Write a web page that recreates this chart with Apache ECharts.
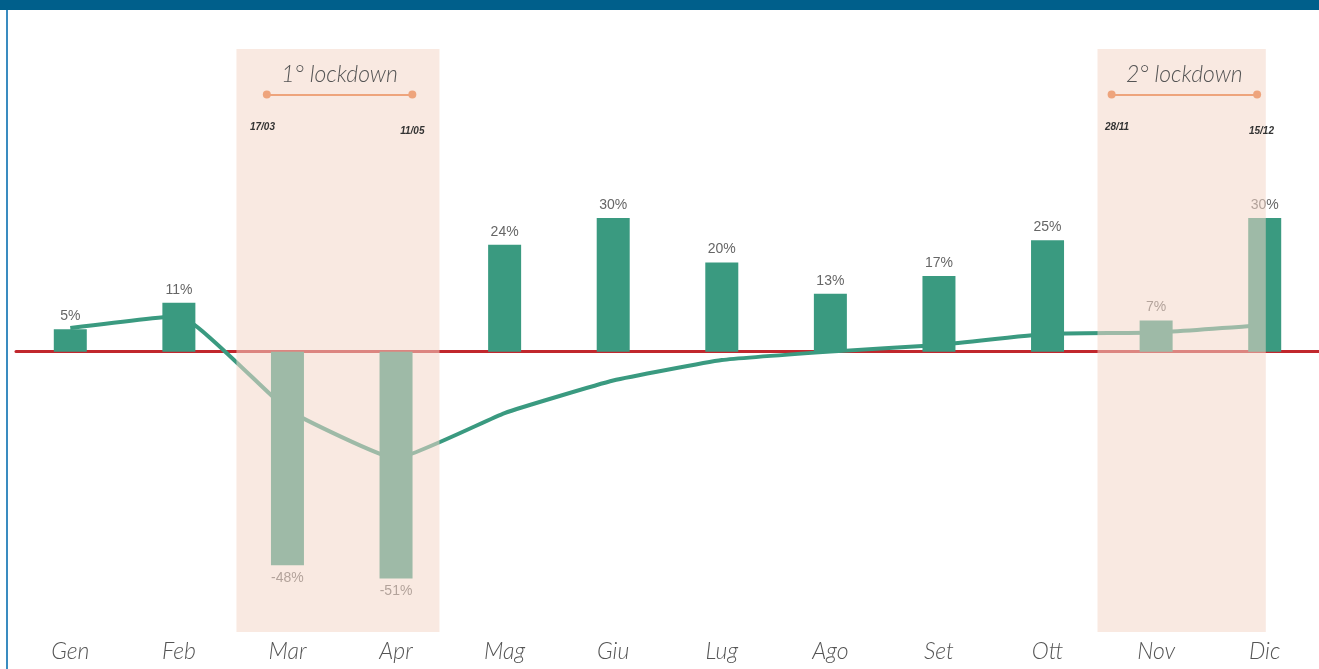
<!DOCTYPE html>
<html>
<head>
<meta charset="utf-8">
<script src="https://cdn.jsdelivr.net/npm/echarts@6/dist/echarts.min.js"></script>
<style>
  html, body { margin: 0; padding: 0; background: #fff; }
  #chart { width: 1319px; height: 669px; }
</style>
</head>
<body>
<div id="chart"></div>
<script>
// mesi
const months = ['Gen', 'Feb', 'Mar', 'Apr', 'Mag', 'Giu', 'Lug', 'Ago', 'Set', 'Ott', 'Nov', 'Dic'];
// variazione mensile (%)
const monthly = [5, 11, -48, -51, 24, 30, 20, 13, 17, 25, 7, 30];
// andamento cumulato (%)
const cumulative = [5.3, 8.0, -13, -24, -13.8, -6.5, -1.9, 0, 1.5, 4.0, 4.3, 6.0];
// periodi di lockdown, posizioni sull'asse dei mesi (indice)
const lockdowns = [
  { name: '1° lockdown', from: 1.53, to: 3.40, dotFrom: 1.81, dotTo: 3.15, start: '17/03', startAt: 1.77, end: '11/05', endAt: 3.15 },
  { name: '2° lockdown', from: 9.46, to: 11.01, dotFrom: 9.59, dotTo: 10.93, start: '28/11', startAt: 9.64, end: '15/12', endAt: 10.97 }
];

const green = '#3a9a80';
const labelFont = 'Lato';

const chart = echarts.init(document.getElementById('chart'));

let areas = [];
let lines = [];
let texts = [];
for (let lk of lockdowns) {
  areas.push([{ coord: [lk.from, 68] }, { coord: [lk.to, -63] }]);
  lines.push([{ coord: [lk.dotFrom, 57.8] }, { coord: [lk.dotTo, 57.8] }]);
  texts.push({ coord: [(lk.dotFrom + lk.dotTo) / 2, 62.3], value: lk.name,
    label: { fontSize: 23, fontStyle: 'italic', fontWeight: 300, color: '#555', fontFamily: labelFont } });
  texts.push({ coord: [lk.startAt, 50.4], value: lk.start,
    label: { fontSize: 10, fontStyle: 'italic', fontWeight: 'bold', color: '#333', fontFamily: 'Liberation Sans' } });
  texts.push({ coord: [lk.endAt, 49.5], value: lk.end,
    label: { fontSize: 10, fontStyle: 'italic', fontWeight: 'bold', color: '#333', fontFamily: 'Liberation Sans' } });
}

chart.setOption({
  animation: false,
  backgroundColor: '#fff',
  graphic: [
    { type: 'rect', left: 0, top: 0, shape: { width: 1319, height: 10 }, style: { fill: '#005f8b' }, z: 100 },
    { type: 'rect', left: 6, top: 10, shape: { width: 2, height: 659 }, style: { fill: '#3a8cc0' }, z: 100 }
  ],
  grid: { left: 16, right: 0, top: 49, bottom: 37 },
  xAxis: [
    {
      type: 'category',
      data: months,
      boundaryGap: true,
      axisTick: { show: false },
      axisLine: { show: true, onZero: true, lineStyle: { color: '#c1272d', width: 3 } },
      axisLabel: {
        fontFamily: labelFont, fontStyle: 'italic', fontWeight: 300,
        fontSize: 23, color: '#555', margin: 8
      }
    },
    { type: 'value', min: -0.5, max: 11.5, show: false }
  ],
  yAxis: {
    type: 'value',
    min: -63,
    max: 68,
    show: false,
    splitLine: { show: false }
  },
  series: [
    {
      name: 'cumulato',
      type: 'line',
      data: cumulative,
      smooth: 0.12,
      symbol: 'none',
      lineStyle: { color: green, width: 4 },
      z: 1
    },
    {
      name: 'mensile',
      type: 'bar',
      data: monthly.map(v => v < 0 ? { value: v, label: { position: 'bottom' } } : v),
      barWidth: 33,
      itemStyle: { color: green },
      label: {
        show: true,
        formatter: p => p.value + '%',
        position: 'top',
        distance: 6,
        fontFamily: 'Liberation Sans',
        fontSize: 14,
        color: '#666'
      },
      z: 3
    },
    {
      name: 'lockdown',
      type: 'line',
      xAxisIndex: 1,
      data: [],
      z: 10,
      markArea: {
        silent: true,
        z: 10,
        itemStyle: { color: 'rgba(244,214,199,0.54)' },
        data: areas
      }
    },
    {
      name: 'note',
      type: 'line',
      xAxisIndex: 1,
      data: [],
      z: 12,
      markLine: {
        silent: true,
        z: 20,
        symbol: ['circle', 'circle'],
        symbolSize: 8,
        itemStyle: { color: '#d9773f' },
        lineStyle: { color: '#eea47c', width: 2, type: 'solid' },
        label: { show: false },
        data: lines
      },
      markPoint: {
        silent: true,
        z: 20,
        symbol: 'circle',
        symbolSize: 0,
        label: { show: true, position: 'inside', formatter: p => p.value },
        data: texts
      }
    }
  ]
});
</script>
</body>
</html>
